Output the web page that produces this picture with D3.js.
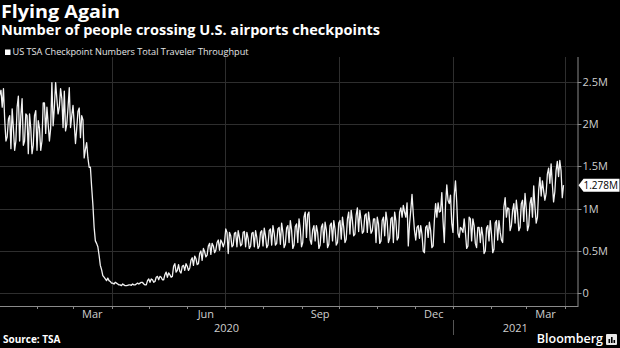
<!DOCTYPE html>
<html>
<head>
<meta charset="utf-8">
<script src="https://cdn.jsdelivr.net/npm/d3@7/dist/d3.min.js"></script>
<style>
html, body { margin: 0; padding: 0; background: #000; }
svg { display: block; font-family: "Open Sans", sans-serif; }
</style>
</head>
<body>
<svg width="620" height="348"></svg>
<script>
// daily TSA throughput, millions of travelers, each array starts on the 1st of its month
var jan2020 = [2.30, 2.35, 2.40, 2.20, 2.42, 2.05, 1.80, 1.85, 2.06, 2.10, 1.71, 2.18, 1.95, 1.69, 1.80, 2.20,
  2.33, 1.80, 2.10, 2.30, 1.75, 1.80, 2.12, 2.10, 1.65, 2.12, 1.95, 1.65, 1.75, 2.10, 2.16];
var feb2020 = [1.69, 2.04, 1.95, 1.69, 1.80, 2.25, 2.25, 1.89, 2.20, 2.00, 1.80, 1.95, 2.49, 1.98, 2.20, 2.49,
  2.30, 2.12, 2.20, 2.42, 2.30, 1.96, 2.39, 1.92, 2.00, 2.20, 2.43, 1.96, 2.10];
var mar2020 = [2.22, 2.00, 1.77, 1.95, 2.15, 2.19, 1.84, 2.10, 2.05, 1.60, 1.70, 1.78, 1.60, 1.49, 1.49, 1.26,
  1.05, 0.78, 0.62, 0.59, 0.55, 0.45, 0.33, 0.28, 0.21, 0.19, 0.17, 0.15, 0.18, 0.15, 0.14];
var apr2020 = [0.12, 0.12, 0.11, 0.13, 0.12, 0.11, 0.10, 0.10, 0.09, 0.11, 0.10, 0.09, 0.09, 0.095, 0.10, 0.10,
  0.095, 0.11, 0.10, 0.10, 0.11, 0.12, 0.11, 0.12, 0.13, 0.128, 0.11, 0.10, 0.10, 0.15];
var may2020 = [0.17, 0.13, 0.17, 0.16, 0.13, 0.14, 0.19, 0.20, 0.16, 0.20, 0.19, 0.16, 0.16, 0.22, 0.25, 0.19,
  0.24, 0.22, 0.19, 0.20, 0.32, 0.35, 0.25, 0.27, 0.34, 0.26, 0.24, 0.32, 0.33, 0.27, 0.35];
var jun2020 = [0.32, 0.27, 0.30, 0.39, 0.42, 0.33, 0.44, 0.41, 0.34, 0.35, 0.47, 0.50, 0.39, 0.53, 0.49, 0.43,
  0.45, 0.56, 0.59, 0.46, 0.59, 0.56, 0.48, 0.51, 0.60, 0.63, 0.51, 0.63, 0.60, 0.55];
var jul2020 = [0.60, 0.76, 0.72, 0.47, 0.72, 0.68, 0.55, 0.57, 0.71, 0.72, 0.55, 0.74, 0.66, 0.56, 0.58, 0.72,
  0.73, 0.55, 0.72, 0.65, 0.53, 0.56, 0.71, 0.72, 0.55, 0.74, 0.66, 0.53, 0.56, 0.72, 0.74];
var aug2020 = [0.56, 0.77, 0.68, 0.54, 0.57, 0.74, 0.76, 0.57, 0.80, 0.71, 0.57, 0.59, 0.76, 0.78, 0.58, 0.83,
  0.72, 0.54, 0.58, 0.77, 0.80, 0.60, 0.86, 0.75, 0.53, 0.57, 0.79, 0.82, 0.60, 0.88, 0.76];
var sep2020 = [0.55, 0.60, 0.90, 0.96, 0.66, 0.93, 0.96, 0.63, 0.58, 0.75, 0.80, 0.62, 0.80, 0.72, 0.53, 0.57,
  0.78, 0.82, 0.60, 0.84, 0.75, 0.54, 0.58, 0.80, 0.83, 0.62, 0.86, 0.76, 0.57, 0.60];
var oct2020 = [0.83, 0.86, 0.64, 0.90, 0.78, 0.60, 0.64, 0.88, 0.96, 0.70, 0.98, 0.86, 0.68, 0.70, 0.92, 1.01,
  0.73, 0.98, 0.86, 0.71, 0.73, 0.92, 0.94, 0.72, 0.96, 0.84, 0.71, 0.74, 0.88, 0.88, 0.60];
var nov2020 = [0.90, 0.82, 0.59, 0.62, 0.86, 0.90, 0.68, 0.96, 0.85, 0.60, 0.65, 0.88, 0.90, 0.60, 0.96, 0.86,
  0.63, 0.66, 0.96, 1.01, 0.90, 1.04, 0.96, 0.90, 1.07, 0.56, 0.82, 0.98, 1.17, 0.94];
var dec2020 = [0.74, 0.63, 0.78, 0.80, 0.65, 0.80, 0.70, 0.50, 0.48, 0.78, 0.80, 0.66, 0.84, 0.74, 0.54, 0.56,
  0.86, 1.06, 0.90, 1.07, 0.96, 0.97, 1.19, 0.85, 0.60, 1.05, 1.28, 1.10, 1.06, 1.16, 0.83];
var jan2021 = [0.72, 1.15, 1.33, 1.08, 0.71, 0.66, 0.78, 0.76, 0.72, 0.88, 0.72, 0.53, 0.56, 0.90, 0.88, 0.62,
  0.88, 0.80, 0.59, 0.54, 0.78, 0.78, 0.60, 0.78, 0.68, 0.47, 0.50, 0.77, 0.80, 0.62, 0.86];
var feb2021 = [0.70, 0.48, 0.52, 0.83, 0.86, 0.63, 0.86, 0.72, 0.63, 0.60, 1.02, 1.13, 0.90, 1.01, 1.00, 0.74,
  0.80, 0.98, 1.06, 0.83, 1.10, 0.96, 0.74, 0.78, 1.06, 1.10, 0.85, 1.18];
var mar2021 = [1.00, 0.74, 0.80, 1.06, 1.13, 0.90, 1.27, 1.02, 0.83, 0.90, 1.22, 1.37, 1.15, 1.33, 1.21, 1.10,
  1.18, 1.41, 1.48, 1.30, 1.53, 1.29, 1.08, 1.20, 1.45, 1.56, 1.38, 1.57, 1.45, 1.13, 1.278];

var months = [
  [2020, 0, jan2020], [2020, 1, feb2020], [2020, 2, mar2020], [2020, 3, apr2020],
  [2020, 4, may2020], [2020, 5, jun2020], [2020, 6, jul2020], [2020, 7, aug2020],
  [2020, 8, sep2020], [2020, 9, oct2020], [2020, 10, nov2020], [2020, 11, dec2020],
  [2021, 0, jan2021], [2021, 1, feb2021], [2021, 2, mar2021]
];

var yTicks = [0, 0.5, 1, 1.5, 2, 2.5];
var yTickLabels = ['0', '0.5M', '1M', '1.5M', '2M', '2.5M'];
var monthLabels = ['Mar', 'Jun', 'Sep', 'Dec', 'Mar'];
var monthLabelDates = [new Date(2020, 2, 1), new Date(2020, 5, 1), new Date(2020, 8, 1), new Date(2020, 11, 1), new Date(2021, 2, 1)];
var gridDates = [new Date(2020, 3, 1), new Date(2020, 6, 1), new Date(2020, 9, 1), new Date(2021, 0, 1), new Date(2021, 3, 1)];
var yearLabels = ['2020', '2021'];

var data = [];
months.forEach(function(m) {
  m[2].forEach(function(v, i) {
    data.push({ date: new Date(m[0], m[1], i + 1), v: v });
  });
});

var plotLeft = 0, plotRight = 577.5, plotTop = 57, axisY = 306;

var svg = d3.select('svg');
svg.append('rect').attr('width', 620).attr('height', 348).attr('fill', '#000');

var x = d3.scaleTime()
  .domain([new Date(2020, 0, 1), new Date(2021, 0, 1)])
  .range([-1.5, 453]);
var y = d3.scaleLinear().domain([0, 2.5]).range([293.3, 81.8]);

// titles
svg.append('text').attr('x', 1).attr('y', 17.5).attr('fill', '#fff')
  .attr('font-size', 17).attr('font-weight', 700)
  .attr('textLength', 119).attr('lengthAdjust', 'spacingAndGlyphs')
  .text('Flying Again');
svg.append('text').attr('x', 1).attr('y', 35).attr('fill', '#fff')
  .attr('font-size', 13.5).attr('font-weight', 700)
  .attr('textLength', 379).attr('lengthAdjust', 'spacingAndGlyphs')
  .text('Number of people crossing U.S. airports checkpoints');
svg.append('rect').attr('x', 5).attr('y', 49.5).attr('width', 5.5).attr('height', 5.5).attr('fill', '#fff');
svg.append('text').attr('x', 12.5).attr('y', 55).attr('fill', '#e6e6e6')
  .attr('font-size', 9.5)
  .attr('textLength', 236).attr('lengthAdjust', 'spacingAndGlyphs')
  .text('US TSA Checkpoint Numbers Total Traveler Throughput');

// horizontal grid
svg.append('g').selectAll('line').data(yTicks).enter().append('line')
  .attr('x1', plotLeft).attr('x2', plotRight)
  .attr('y1', d => Math.round(y(d)) + 0.5).attr('y2', d => Math.round(y(d)) + 0.5)
  .attr('stroke', '#2e2e2e').attr('stroke-width', 1);

// vertical grid at quarter starts
svg.append('g').selectAll('line').data(gridDates).enter().append('line')
  .attr('x1', d => Math.round(x(d)) + 0.5).attr('x2', d => Math.round(x(d)) + 0.5)
  .attr('y1', plotTop).attr('y2', axisY)
  .attr('stroke', '#2e2e2e').attr('stroke-width', 1);

// month ticks on x axis
var monthTicks = d3.timeMonth.range(new Date(2020, 1, 1), new Date(2021, 3, 2));
svg.append('g').selectAll('line').data(monthTicks).enter().append('line')
  .attr('x1', d => Math.round(x(d)) + 0.5).attr('x2', d => Math.round(x(d)) + 0.5)
  .attr('y1', axisY).attr('y2', axisY + 3)
  .attr('stroke', '#8a8a8a');

svg.append('line').attr('x1', 0).attr('x2', plotRight + 0.5)
  .attr('y1', axisY + 0.5).attr('y2', axisY + 0.5)
  .attr('stroke', '#8a8a8a').attr('stroke-width', 1);

// month labels centred inside their month
svg.append('g').selectAll('text').data(monthLabelDates).enter().append('text')
  .attr('x', (d, i) => (x(d) + x(d3.timeMonth.offset(d, 1))) / 2)
  .attr('y', 318).attr('text-anchor', 'middle')
  .attr('fill', '#cfcfcf').attr('font-size', 11)
  .text((d, i) => monthLabels[i]);

// year labels and divider
var yearSpans = [[0, x(new Date(2021, 0, 1))], [x(new Date(2021, 0, 1)), plotRight]];
svg.append('g').selectAll('text').data(yearLabels).enter().append('text')
  .attr('x', (d, i) => (yearSpans[i][0] + yearSpans[i][1]) / 2)
  .attr('y', 332).attr('text-anchor', 'middle')
  .attr('fill', '#cfcfcf').attr('font-size', 11)
  .text(d => d);
svg.append('line')
  .attr('x1', Math.round(x(new Date(2021, 0, 1))) + 0.5).attr('x2', Math.round(x(new Date(2021, 0, 1))) + 0.5)
  .attr('y1', 320).attr('y2', 335).attr('stroke', '#555');

// y axis on the right
svg.append('line').attr('x1', plotRight + 0.5).attr('x2', plotRight + 0.5)
  .attr('y1', plotTop).attr('y2', axisY + 1)
  .attr('stroke', '#8a8a8a');
var yg = svg.append('g').selectAll('g').data(yTicks).enter().append('g')
  .attr('transform', d => 'translate(0,' + (Math.round(y(d)) + 0.5) + ')');
yg.append('line').attr('x1', plotRight).attr('x2', plotRight + 4).attr('stroke', '#8a8a8a');
yg.append('text').attr('x', plotRight + 5).attr('dy', '0.35em')
  .attr('fill', '#cfcfcf').attr('font-size', 11)
  .text((d, i) => yTickLabels[i]);

// the series
svg.append('clipPath').attr('id', 'plot-clip').append('rect')
  .attr('x', plotLeft).attr('y', 0).attr('width', plotRight - plotLeft).attr('height', axisY);
svg.append('path').datum(data)
  .attr('clip-path', 'url(#plot-clip)')
  .attr('fill', 'none').attr('stroke', '#f2f2f2').attr('stroke-width', 1.3)
  .attr('stroke-linejoin', 'round')
  .attr('d', d3.line().x(d => x(d.date)).y(d => y(d.v)));

// last value flag
var last = data[data.length - 1];
var ly = y(last.v);
svg.append('path')
  .attr('d', 'M' + (plotRight + 1) + ',' + ly + 'L' + (plotRight + 6) + ',' + (ly - 6.5) +
    'H619.5V' + (ly + 6.5) + 'H' + (plotRight + 6) + 'Z')
  .attr('fill', '#fff');
svg.append('text').attr('x', plotRight + 6).attr('y', ly).attr('dy', '0.36em')
  .attr('fill', '#000').attr('font-size', 10.5)
  .attr('textLength', 34.5).attr('lengthAdjust', 'spacingAndGlyphs')
  .text(d3.format('.3f')(last.v) + 'M');

// footer
svg.append('text').attr('x', 3).attr('y', 343).attr('fill', '#fff')
  .attr('font-size', 10).attr('font-weight', 700)
  .text('Source: TSA');
svg.append('text').attr('x', 603).attr('y', 343).attr('text-anchor', 'end')
  .attr('fill', '#fff').attr('font-size', 12.5).attr('font-weight', 600)
  .text('Bloomberg');
var logo = svg.append('g').attr('transform', 'translate(606,334)');
logo.append('rect').attr('width', 11).attr('height', 11).attr('rx', 1).attr('fill', '#e8e8e8');
logo.append('rect').attr('x', 2.5).attr('y', 5).attr('width', 1.6).attr('height', 4).attr('fill', '#000');
logo.append('rect').attr('x', 5).attr('y', 3).attr('width', 1.6).attr('height', 6).attr('fill', '#000');
logo.append('rect').attr('x', 7.5).attr('y', 6).attr('width', 1.6).attr('height', 3).attr('fill', '#000');
</script>
</body>
</html>
